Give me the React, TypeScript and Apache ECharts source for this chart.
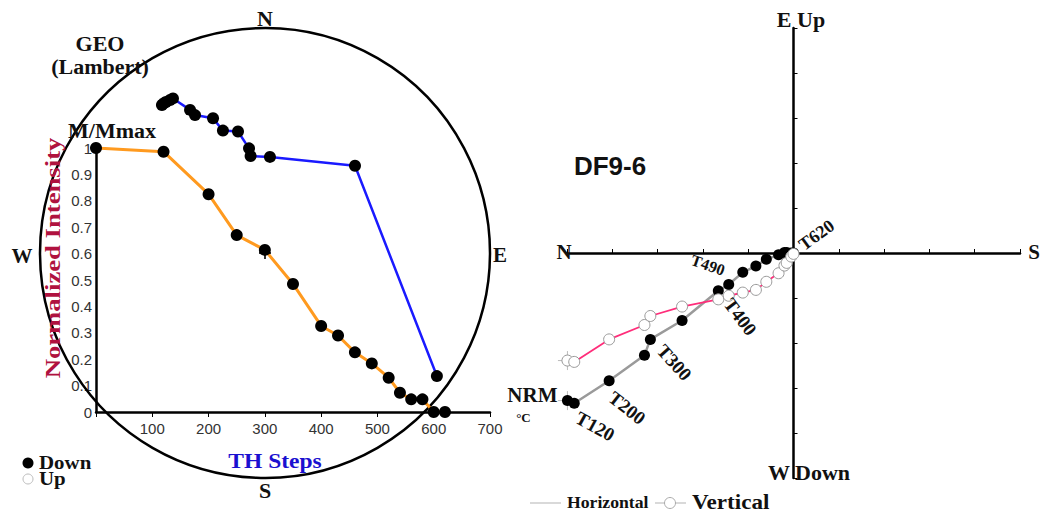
import React, { useEffect, useRef } from "react";
import * as echarts from "echarts";

// ---------------- DATA ----------------
const steps = ["NRM", "T120", "T200", "T250", "T300", "T350", "T400", "T430", "T460", "T490", "T520", "T540", "T560", "T580", "T600", "T620"];
const tempSteps = [0, 120, 200, 250, 300, 350, 400, 430, 460, 490, 520, 540, 560, 580, 600, 620];
const normIntensity = [1, 0.986, 0.825, 0.67, 0.614, 0.485, 0.326, 0.29, 0.226, 0.184, 0.13, 0.073, 0.048, 0.048, 0, 0];

// Equal-area (Lambert) projected directions, unit circle: east / north components
const stereoEast = [-0.458, -0.45, -0.44, -0.422, -0.409, -0.333, -0.311, -0.231, -0.187, -0.12, -0.071, -0.064, 0.022, 0.4, 0.764];
const stereoNorth = [0.658, 0.665, 0.671, 0.68, 0.687, 0.636, 0.613, 0.599, 0.544, 0.54, 0.465, 0.431, 0.427, 0.388, -0.547];

// Zijderveld components (arbitrary units): x = N(-)/S(+), horizontal y = E(+)/W(-), vertical y = Up(+)/Down(-)
const zijNS = [-4.99, -4.84, -4.07, -3.29, -3.16, -2.46, -1.66, -1.43, -1.12, -0.83, -0.6, -0.33, -0.2, -0.15, -0.05, 0];
const zijEW = [-3.28, -3.34, -2.84, -2.27, -1.92, -1.5, -0.84, -0.7, -0.43, -0.29, -0.14, -0.04, 0.01, 0.01, 0, 0];
const zijUD = [-2.39, -2.42, -1.92, -1.6, -1.4, -1.19, -1.03, -0.95, -0.88, -0.82, -0.64, -0.45, -0.28, -0.22, -0.08, -0.02];

const zijLabelSteps = ["T120", "T200", "T300", "T400", "T490", "T620"];

// ---------------- STYLE ----------------
const SERIF = '"Liberation Serif", "Times New Roman", serif';
const SANS = '"Liberation Sans", Arial, sans-serif';

const labelStyle: Record<string, { dx: number; dy: number; rot: number; size: number }> = {
  T120: { dx: 21, dy: 23, rot: -29, size: 19 },
  T200: { dx: 18, dy: 27, rot: -38, size: 19 },
  T300: { dx: 24, dy: 23, rot: -48, size: 19 },
  T400: { dx: 22, dy: 26, rot: -53, size: 19 },
  T490: { dx: -48, dy: -1, rot: -19, size: 16 },
  T620: { dx: 23, dy: -18, rot: 36, size: 18 },
};

const crossPath = "path://M0,10L20,10M10,0L10,20";

export default function App() {
  const ref = useRef<HTMLDivElement>(null);

  useEffect(() => {
    if (!ref.current) return;
    const chart = echarts.init(ref.current, undefined, { renderer: "svg" });

    const intensityData = tempSteps.map((t, i) => [t, normIntensity[i]]);
    const stereoData = stereoEast.map((e, i) => [e, stereoNorth[i]]);
    const horizData = zijNS.map((x, i) => [x, zijEW[i]]);
    const vertData = zijNS.map((x, i) => [x, zijUD[i]]);

    chart.setOption({
      animation: false,
      backgroundColor: "#fff",
      grid: [
        { left: 96, top: 148, width: 394, height: 264 },
        { left: 40, top: 28, width: 450, height: 450 },
        { left: 567, top: 28, width: 453, height: 450 },
      ],
      xAxis: [
        {
          gridIndex: 0, type: "value", min: 0, max: 700, interval: 100,
          axisLine: { show: true, lineStyle: { color: "#000", width: 2.5 } },
          axisTick: { show: true, length: 5, lineStyle: { color: "#000", width: 1 } },
          axisLabel: { color: "#333", fontSize: 15, fontFamily: SANS, margin: 9, formatter: (v: number) => (v === 0 ? "" : String(v)) },
          splitLine: { show: false },
        },
        { gridIndex: 1, type: "value", min: -1, max: 1, show: false },
        {
          gridIndex: 2, type: "value", min: -5, max: 5, interval: 1,
          axisLine: { show: true, onZero: true, lineStyle: { color: "#000", width: 2.5 } },
          axisTick: { show: true, inside: true, length: 4, lineStyle: { color: "#000", width: 1 } },
          axisLabel: { show: false },
          splitLine: { show: false },
        },
      ],
      yAxis: [
        {
          gridIndex: 0, type: "value", min: 0, max: 1, interval: 0.1,
          axisLine: { show: true, lineStyle: { color: "#000", width: 2.5 } },
          axisTick: { show: false },
          axisLabel: { color: "#333", fontSize: 15, fontFamily: SANS, margin: 4 },
          splitLine: { show: false },
        },
        { gridIndex: 1, type: "value", min: -1, max: 1, show: false },
        {
          gridIndex: 2, type: "value", min: -5, max: 5, interval: 1,
          axisLine: { show: true, onZero: true, lineStyle: { color: "#000", width: 2.5 } },
          axisTick: { show: true, inside: true, length: 4, lineStyle: { color: "#000", width: 1 } },
          axisLabel: { show: false },
          splitLine: { show: false },
        },
      ],
      series: [
        {
          type: "line", xAxisIndex: 0, yAxisIndex: 0, data: intensityData,
          lineStyle: { color: "#ff9a1f", width: 3 },
          symbol: "circle", symbolSize: 12, itemStyle: { color: "#000" }, z: 3,
        },
        {
          type: "line", xAxisIndex: 1, yAxisIndex: 1, data: stereoData,
          lineStyle: { color: "#1a1aff", width: 2.5 },
          symbol: "circle", symbolSize: 12, itemStyle: { color: "#000" }, z: 4,
        },
        {
          type: "scatter", xAxisIndex: 1, yAxisIndex: 1, data: [[0, 0]],
          symbol: crossPath, symbolSize: 12,
          itemStyle: { color: "transparent", borderColor: "#000", borderWidth: 2 }, z: 5,
        },
        {
          type: "scatter", xAxisIndex: 2, yAxisIndex: 2, data: [horizData[0], vertData[0]],
          symbol: crossPath, symbolSize: 19,
          itemStyle: { color: "transparent", borderColor: "#aaa", borderWidth: 1 }, z: 2,
        },
        {
          type: "line", xAxisIndex: 2, yAxisIndex: 2, data: horizData,
          lineStyle: { color: "#9a9a9a", width: 2.5 },
          symbol: "circle", symbolSize: 11, itemStyle: { color: "#000" }, z: 3,
        },
        {
          type: "line", xAxisIndex: 2, yAxisIndex: 2, data: vertData,
          lineStyle: { color: "#ff2d7a", width: 1.8 },
          symbol: "circle", symbolSize: 11,
          itemStyle: { color: "#fff", borderColor: "#999", borderWidth: 1 }, z: 4,
        },
      ],
    });

    const serifText = (x: number, y: number, text: string, size: number, extra: any = {}) => ({
      type: "text", x, y, z: 20,
      style: {
        text, fill: extra.fill || "#111", font: `bold ${size}px ${SERIF}`,
        textAlign: extra.align || "center", textVerticalAlign: "middle",
      },
      rotation: extra.rotation || 0,
      scaleX: extra.scaleX || 1,
    });

    const graphics: any[] = [
      { type: "circle", shape: { cx: 265, cy: 253, r: 225 }, style: { fill: "none", stroke: "#000", lineWidth: 2.5 }, z: 1 },
      serifText(265, 18, "N", 22),
      serifText(265, 490, "S", 22),
      serifText(22, 256, "W", 21),
      serifText(500, 255, "E", 21),
      serifText(100, 44, "GEO", 20, { scaleX: 1.1 }),
      serifText(100, 67, "(Lambert)", 20, { scaleX: 1.1 }),
      serifText(112, 131, "M/Mmax", 20, { scaleX: 1.1 }),
      serifText(53, 258, "Normalized Intensity", 21, { rotation: Math.PI / 2, fill: "#b0123f", scaleX: 1.27 }),
      serifText(275, 461, "TH Steps", 21, { fill: "#1a10d0", scaleX: 1.12 }),
      { type: "circle", shape: { cx: 28, cy: 463, r: 5.5 }, style: { fill: "#000" }, z: 20 },
      { type: "circle", shape: { cx: 28, cy: 479, r: 5 }, style: { fill: "#fff", stroke: "#bbb", lineWidth: 1 }, z: 20 },
      serifText(39, 462, "Down", 19, { align: "left", scaleX: 1.1 }),
      serifText(39, 478, "Up", 19, { align: "left", scaleX: 1.1 }),
      // right panel
      serifText(801, 20, "E Up", 20, { scaleX: 1.1 }),
      serifText(809, 473, "W Down", 20, { scaleX: 1.1 }),
      serifText(564, 252, "N", 21),
      serifText(1034, 252, "S", 21),
      {
        type: "text", x: 610, y: 166, z: 20,
        style: { text: "DF9-6", fill: "#111", font: `bold 26px ${SANS}`, textAlign: "center", textVerticalAlign: "middle" },
      },
      { type: "line", shape: { x1: 530, y1: 503, x2: 561, y2: 503 }, style: { stroke: "#ccc", lineWidth: 1.5 }, z: 20 },
      serifText(567, 503, "Horizontal", 17, { align: "left", scaleX: 1.04 }),
      { type: "line", shape: { x1: 655, y1: 503, x2: 686, y2: 503 }, style: { stroke: "#ccc", lineWidth: 1.5 }, z: 20 },
      { type: "circle", shape: { cx: 670, cy: 503, r: 5.5 }, style: { fill: "#fff", stroke: "#aaa", lineWidth: 1 }, z: 21 },
      serifText(692, 502, "Vertical", 22, { align: "left", scaleX: 1.05 }),
    ];

    // NRM label attached to the first Zijderveld point
    const p0 = chart.convertToPixel({ gridIndex: 2 }, horizData[0]) as number[];
    graphics.push(serifText(p0[0] - 10, p0[1] - 5, "NRM", 20, { align: "right", scaleX: 1.05 }));
    graphics.push({
      type: "text", x: p0[0] - 44, y: p0[1] + 17, z: 20,
      style: { text: "°C", fill: "#111", font: `bold 13px ${SERIF}`, textAlign: "center", textVerticalAlign: "middle" },
    });

    zijLabelSteps.forEach((name) => {
      const idx = steps.indexOf(name);
      const st = labelStyle[name];
      const p = chart.convertToPixel({ gridIndex: 2 }, horizData[idx]) as number[];
      graphics.push({
        type: "text", x: p[0] + st.dx, y: p[1] + st.dy, z: 22,
        rotation: (st.rot * Math.PI) / 180,
        style: { text: name, fill: "#111", font: `bold ${st.size}px ${SERIF}`, textAlign: "center", textVerticalAlign: "middle" },
      });
    });

    chart.setOption({ graphic: graphics });

    return () => chart.dispose();
  }, []);

  return <div ref={ref} style={{ position: "fixed", left: 0, top: 0, width: 1041, height: 517, background: "#fff" }} />;
}
